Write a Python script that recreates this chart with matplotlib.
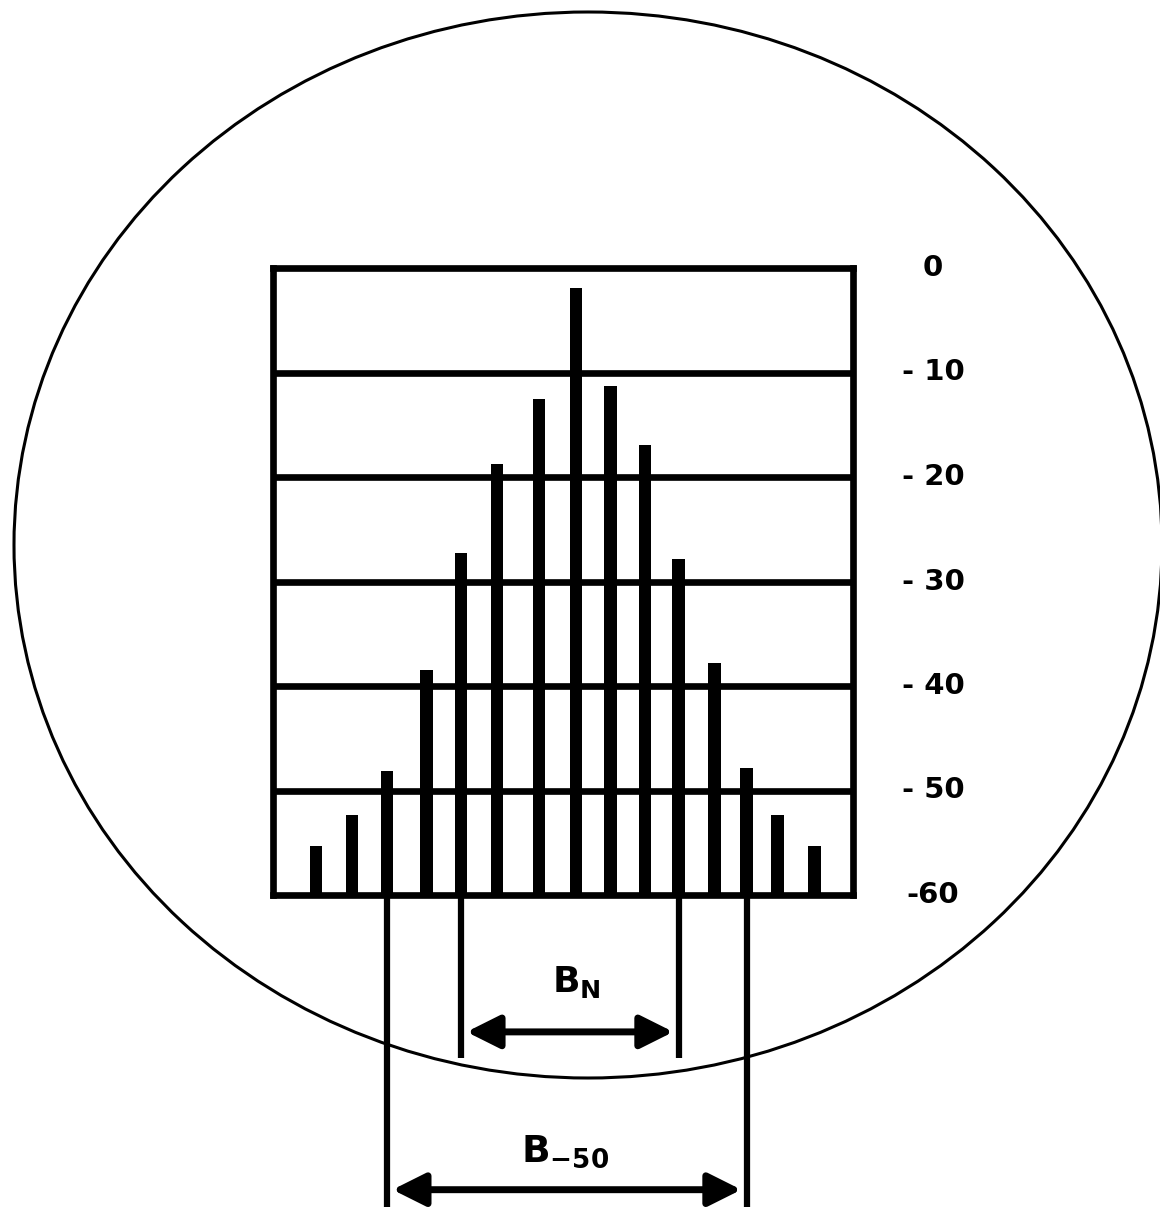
import matplotlib.pyplot as plt
from matplotlib.patches import Ellipse

# spectrum lines: offset from carrier (line spacings) and level in dB,
# both
line_offset = [-7.30, -6.29, -5.31, -4.21, -3.23, -2.22, -1.04, 0.0,
               0.96, 1.94, 2.89, 3.90, 4.80, 5.67, 6.71]
level_db = [-55.3, -52.3, -48.1, -38.5, -27.3, -18.8, -12.5, -1.9,
            -11.3, -16.9, -27.8, -37.8, -47.8, -52.3, -55.3]
tick_values = [0, -10, -20, -30, -40, -50, -60]
tick_labels = ["0", "- 10", "- 20", "- 30", "- 40", "- 50", "-60"]
# bandwidth markers: indices of the lines where they are taken
bn_pair = (4, 10)
b50_pair = (2, 12)

fig = plt.figure(figsize=(11.6, 12.07), dpi=100)

# background ellipse in pixel coords of the whole figure
bg = fig.add_axes([0, 0, 1, 1])
bg.set_xlim(0, 1160)
bg.set_ylim(1207, 0)
bg.axis("off")
bg.add_patch(Ellipse((588, 545), 1148, 1066, fill=False,
                     edgecolor="black", linewidth=2.2))

ax = fig.add_axes([273/1160, 1 - 895/1207, 580/1160, 627/1207])
ax.set_facecolor("white")
ax.set_xlim(-8.51, 7.78)
ax.set_ylim(-60, 0)

ax.bar(line_offset, [v + 60 for v in level_db], bottom=-60, width=0.36,
       color="black", zorder=3)

for v in tick_values[1:-1]:
    ax.axhline(v, color="black", linewidth=4.8, zorder=2)
for s in ax.spines.values():
    s.set_linewidth(4.8)
ax.set_xticks([])
ax.set_yticks([])

# level labels on the right
tr = ax.get_yaxis_transform()
for v, lab in zip(tick_values, tick_labels):
    ax.text(1.138, v, lab, transform=tr, ha="center", va="center",
            fontsize=21, fontweight="bold")

# extension lines below the box
for i in bn_pair:
    ax.plot([line_offset[i], line_offset[i]], [-60, -75.6], color="black",
            linewidth=4.5, clip_on=False, solid_capstyle="butt")
for i in b50_pair:
    ax.plot([line_offset[i], line_offset[i]], [-60, -92], color="black",
            linewidth=4.5, clip_on=False, solid_capstyle="butt")

# arrows
arrow = dict(arrowstyle="<|-|>", color="black", lw=5, mutation_scale=50,
             shrinkA=4, shrinkB=4)
ax.annotate("", xy=(line_offset[bn_pair[1]], -73.1),
            xytext=(line_offset[bn_pair[0]], -73.1),
            arrowprops=arrow, annotation_clip=False)
ax.annotate("", xy=(line_offset[b50_pair[1]], -88.2),
            xytext=(line_offset[b50_pair[0]], -88.2),
            arrowprops=arrow, annotation_clip=False)

ax.text(0.0, -68.3, r"$\mathbf{B_{N}}$", ha="center", va="center",
        fontsize=26, clip_on=False)
ax.text(-0.3, -84.6, r"$\mathbf{B_{-50}}$", ha="center", va="center",
        fontsize=27, clip_on=False)

fig.savefig("out.png", dpi=100)
